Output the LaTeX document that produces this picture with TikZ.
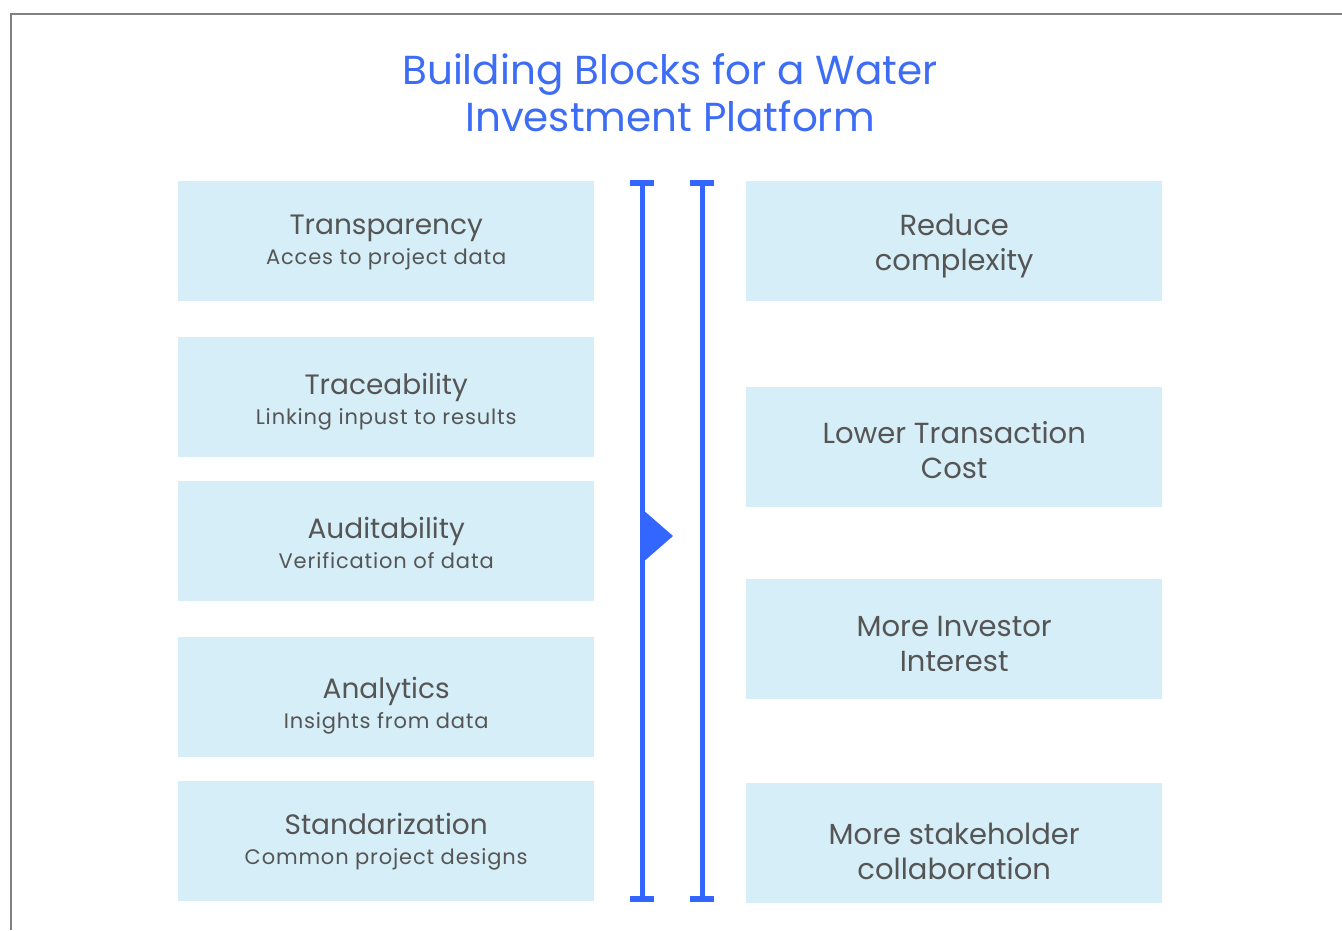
\documentclass[tikz,border=0pt]{standalone}
\usepackage{fontspec}
\setmainfont{Poppins}
\usetikzlibrary{positioning,arrows.meta}
\definecolor{boxfill}{HTML}{D6EEF7}
\definecolor{textgray}{HTML}{555555}
\definecolor{barblue}{HTML}{3366FF}
\definecolor{titleblue}{HTML}{3D6CF5}
\newcommand{\headfont}{\fontsize{28}{30}\selectfont}
\newcommand{\subfont}{\fontsize{21}{30}\selectfont\addfontfeature{LetterSpace=4}}
\begin{document}
\begin{tikzpicture}[
		x=1pt,y=-1pt,
		block/.style={fill=boxfill,minimum width=416pt,minimum height=120pt,align=center,text=textgray,inner sep=0pt,anchor=north west},
		lift/.style={text height=#1,text depth=20pt},
		bar/.style={draw=barblue,line width=5pt},
		barcap/.style={draw=barblue,line width=6pt}
	]
	\useasboundingbox (0,0) rectangle (1342,930);
	\draw[gray,line width=2pt] (11,930) -- (11,14) -- (1342,14);
	\node[text=titleblue,font=\fontsize{40.5}{47}\selectfont,align=center] (title) at (670,93) {Building Blocks for a Water\\Investment Platform};
	% left column
	\node[block,lift=67pt,font=\headfont] (transp) at (178,181) {Transparency\\{\subfont Acces to project data}};
	\node[block,lift=74pt,font=\headfont] (trace) at (178,337) {Traceability\\{\subfont Linking inpust to results}};
	\node[block,lift=74pt,font=\headfont] (audit) at (178,481) {Auditability\\{\subfont Verification of data}};
	\node[block,lift=82pt,font=\headfont] (analy) at (178,637) {Analytics\\{\subfont Insights from data}};
	\node[block,lift=66pt,font=\headfont] (stand) at (178,781) {Standarization\\{\subfont Common project designs}};
	% right column
	\node[block,lift=79pt,font=\fontsize{29}{35}\selectfont] (reduce) at (746,181) {Reduce\\complexity};
	\node[block,lift=82pt,font=\fontsize{29}{35}\selectfont] (lower) at (746,387) {Lower Transaction\\Cost};
	\node[block,lift=85pt,font=\fontsize{29}{35}\selectfont] (invest) at (746,579) {More Investor\\Interest};
	\node[block,lift=93pt,font=\fontsize{29}{35}\selectfont] (collab) at (746,783) {More stakeholder\\collaboration};
	% bars
	\coordinate (ltop) at (642,183);
	\coordinate (lbot) at (642,899);
	\coordinate (rtop) at (702,183);
	\coordinate (rbot) at (702,899);
	\draw[bar] (ltop) -- (lbot);
	\draw[bar] (rtop) -- (rbot);
	\draw[barcap] ([xshift=-12pt]ltop) -- ([xshift=12pt]ltop);
	\draw[barcap] ([xshift=-12pt]lbot) -- ([xshift=12pt]lbot);
	\draw[barcap] ([xshift=-12pt]rtop) -- ([xshift=12pt]rtop);
	\draw[barcap] ([xshift=-12pt]rbot) -- ([xshift=12pt]rbot);
	\fill[barblue] (642,509) -- (673,536) -- (642,563) -- cycle;
\end{tikzpicture}
\end{document}
